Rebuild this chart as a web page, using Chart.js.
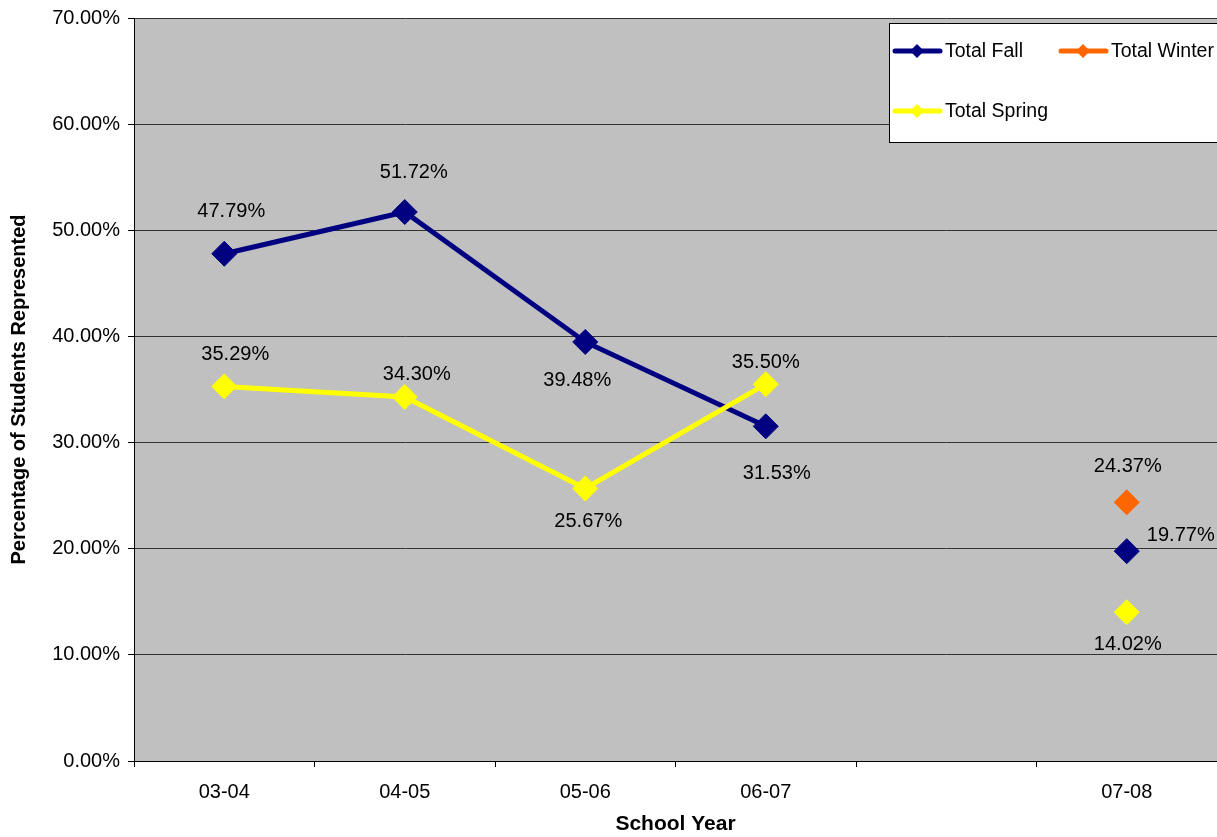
<!DOCTYPE html>
<html>
<head>
<meta charset="utf-8">
<script src="https://cdn.jsdelivr.net/npm/chart.js@4.4.0/dist/chart.umd.min.js"></script>
<style>
  html, body { margin: 0; padding: 0; background: #fff; }
  #wrap { width: 1217px; height: 837px; }
</style>
</head>
<body>
<div id="wrap"><canvas id="chart" width="1217" height="837"></canvas></div>
<script>
// --- DATA ---
const schoolYears = ['03-04', '04-05', '05-06', '06-07', '', '07-08'];
const fallValues = [47.79, 51.72, 39.48, 31.53, null, 19.77];
const winterValues = [null, null, null, null, null, 24.37];
const springValues = [35.29, 34.30, 25.67, 35.50, null, 14.02];

const FONT = '"Liberation Sans", Arial, sans-serif';

// label placement next to each point (dx, dy from the marker)
const labelOffsets = [
    [[7, -42], [9, -40], [-8, 39], [11, 47], null, [54, -16]],
    [null, null, null, null, null, [1, -36]],
    [[11, -32], [12, -22], [3, 33], [0, -22], null, [1, 32]]
];

const plotBackground = {
    id: 'plotBackground',
    beforeDraw(chart) {
        const { ctx, chartArea } = chart;
        ctx.save();
        ctx.fillStyle = '#C0C0C0';
        ctx.fillRect(chartArea.left, chartArea.top, chart.width - chartArea.left, chartArea.bottom - chartArea.top);
        ctx.restore();
    }
};

const pointLabels = {
    id: 'pointLabels',
    afterDatasetsDraw(chart) {
        const { ctx } = chart;
        ctx.save();
        ctx.font = '20px ' + FONT;
        ctx.fillStyle = '#000';
        ctx.textAlign = 'center';
        ctx.textBaseline = 'middle';
        chart.data.datasets.forEach((ds, di) => {
            chart.getDatasetMeta(di).data.forEach((pt, i) => {
                const v = ds.data[i];
                if (v == null) return;
                const off = labelOffsets[di][i] || [0, -30];
                ctx.fillText(v.toFixed(2) + '%', pt.x + off[0], pt.y + off[1]);
            });
        });
        ctx.restore();
    }
};

// legend box drawn like the Excel one, top right
const boxLegend = {
    id: 'boxLegend',
    afterDraw(chart) {
        const { ctx } = chart;
        const slots = [[893, 51], [1059, 51], [893, 111]];
        ctx.save();
        ctx.fillStyle = '#fff';
        ctx.fillRect(889, 23, 340, 119);
        ctx.strokeStyle = '#000';
        ctx.lineWidth = 1;
        ctx.strokeRect(889.5, 23.5, 340, 119);
        ctx.font = '19.5px ' + FONT;
        ctx.textBaseline = 'middle';
        chart.data.datasets.forEach((ds, i) => {
            const [x, y] = slots[i];
            ctx.strokeStyle = ds.borderColor;
            ctx.fillStyle = ds.borderColor;
            ctx.lineWidth = 5;
            ctx.lineCap = 'round';
            ctx.beginPath();
            ctx.moveTo(x + 2, y);
            ctx.lineTo(x + 47, y);
            ctx.stroke();
            ctx.beginPath();
            ctx.moveTo(x + 24, y - 7);
            ctx.lineTo(x + 31, y);
            ctx.lineTo(x + 24, y + 7);
            ctx.lineTo(x + 17, y);
            ctx.closePath();
            ctx.fill();
            ctx.fillStyle = '#000';
            ctx.fillText(ds.label, x + 52, y + 1);
        });
        ctx.restore();
    }
};

// order: lower value is drawn on top (spring over fall, as in Excel)
const makeSeries = (label, values, color, order) => ({
    label,
    data: values,
    order,
    borderColor: color,
    backgroundColor: color,
    borderWidth: 5,
    pointStyle: 'rectRot',
    pointRadius: 12.5,
    pointHoverRadius: 12.5,
    pointBorderWidth: 1,
    pointBackgroundColor: color,
    pointBorderColor: color,
    spanGaps: false,
    tension: 0
});

new Chart(document.getElementById('chart'), {
    type: 'line',
    data: {
        labels: schoolYears,
        datasets: [
            makeSeries('Total Fall', fallValues, '#000080', 2),
            makeSeries('Total Winter', winterValues, '#FF6600', 1),
            makeSeries('Total Spring', springValues, '#FFFF00', 0)
        ]
    },
    options: {
        responsive: false,
        animation: false,
        layout: { autoPadding: false, padding: { top: 18, right: 0, left: 0, bottom: 0 } },
        plugins: {
            legend: { display: false },
            tooltip: { enabled: false }
        },
        scales: {
            x: {
                offset: true,
                grid: { display: true, drawOnChartArea: false, offset: true, tickLength: 6, tickColor: '#000' },
                border: { color: '#000', width: 1 },
                ticks: { color: '#000', font: { family: FONT, size: 20 }, padding: 13, maxRotation: 0, autoSkip: false },
                title: { display: true, text: 'School Year', color: '#000', font: { family: FONT, size: 21, weight: 'bold' }, padding: { top: 12, bottom: 0 } },
                afterFit(scale) {
                    scale.height = 76;
                    scale.paddingLeft = 0;
                    scale.paddingRight = 0;
                }
            },
            y: {
                min: 0,
                max: 70,
                ticks: {
                    stepSize: 10,
                    color: '#000',
                    padding: 8,
                    font: { family: FONT, size: 20 },
                    callback: v => v.toFixed(2) + '%'
                },
                grid: { color: '#333', lineWidth: 1, tickLength: 6, tickColor: '#000' },
                border: { color: '#000', width: 1 },
                title: { display: true, text: 'Percentage of Students Represented', color: '#000', font: { family: FONT, size: 20, weight: 'bold' }, padding: { top: 7, bottom: 0 } },
                afterFit(scale) {
                    scale.width = 134;
                    scale.paddingTop = 0;
                    scale.paddingBottom = 0;
                }
            }
        }
    },
    plugins: [plotBackground, pointLabels, boxLegend]
});
</script>
</body>
</html>
